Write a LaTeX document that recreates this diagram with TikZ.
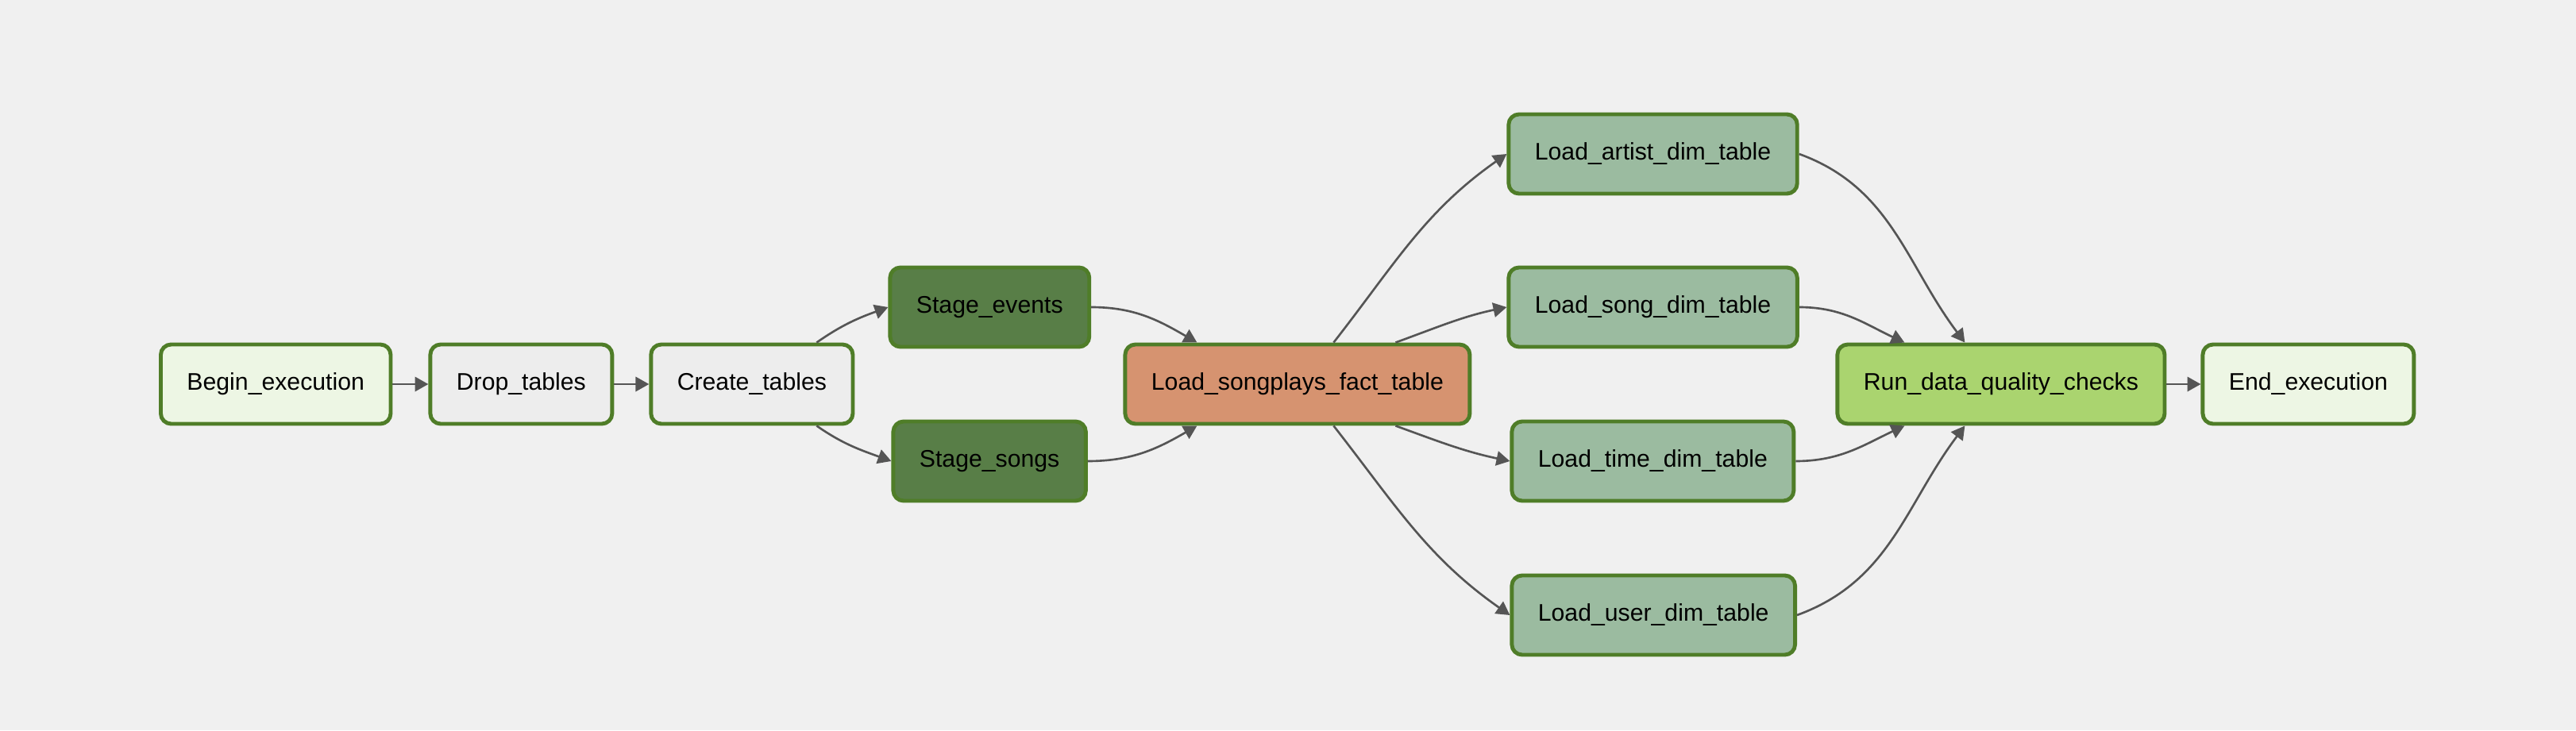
\documentclass[tikz,border=0pt]{standalone}
\usepackage{fontspec}
\setmainfont{Liberation Sans}
\usepackage{tikz}
\usetikzlibrary{positioning,arrows.meta}
\definecolor{canvas}{RGB}{240,240,240}
\definecolor{taskline}{RGB}{79,125,40}
\definecolor{edgegray}{RGB}{85,85,85}
\definecolor{dummyfill}{RGB}{237,246,228}
\definecolor{sqlfill}{RGB}{237,237,237}
\definecolor{stagefill}{RGB}{88,126,71}
\definecolor{factfill}{RGB}{214,147,112}
\definecolor{dimfill}{RGB}{155,187,160}
\definecolor{checkfill}{RGB}{170,212,111}
\tikzstyle{task}=[draw=taskline, line width=1.4pt, rounded corners=0.13cm,
        minimum height=1cm, inner xsep=0.33cm, font=\fontsize{8.6}{10}\selectfont]
\tikzstyle{edge}=[draw=edgegray, line width=0.75pt, -{Triangle[length=4.8pt,width=5.2pt]}]

\begin{document}
\begin{tikzpicture}

        \fill[canvas] (0,0) rectangle (32.44,9.2);
        \useasboundingbox (0,0) rectangle (32.44,9.2);

        \node[task, fill=dummyfill, anchor=west] (begin) at (2.0,4.36) {Begin\_execution};
        \node[task, fill=sqlfill, right=0.45cm of begin] (drop) {Drop\_tables};
        \node[task, fill=sqlfill, right=0.44cm of drop] (create) {Create\_tables};

        \node[task, fill=stagefill, right=0.42cm of create.east, yshift=0.97cm] (sevents)
            {Stage\_events};
        \node[task, fill=stagefill, right=0.46cm of create.east, yshift=-0.97cm] (ssongs)
            {Stage\_songs};

        \node[task, fill=factfill, right=3.38cm of create] (fact)
            {Load\_songplays\_fact\_table};

        \node[task, fill=dimfill, right=0.44cm of fact.east, yshift=2.9cm] (artist)
            {Load\_artist\_dim\_table};
        \node[task, fill=dimfill, right=0.44cm of fact.east, yshift=0.97cm] (song)
            {Load\_song\_dim\_table};
        \node[task, fill=dimfill, right=0.48cm of fact.east, yshift=-0.97cm] (time)
            {Load\_time\_dim\_table};
        \node[task, fill=dimfill, right=0.48cm of fact.east, yshift=-2.91cm] (user)
            {Load\_user\_dim\_table};

        \node[task, fill=checkfill, right=4.58cm of fact] (checks)
            {Run\_data\_quality\_checks};
        \node[task, fill=dummyfill, right=0.43cm of checks] (end) {End\_execution};

        \draw[edge] (begin) -- (drop);
        \draw[edge] (drop) -- (create);
        \draw[edge] ([xshift=-0.48cm]create.north east) to[out=35, in=200] (sevents.west);
        \draw[edge] ([xshift=-0.48cm]create.south east) to[out=-35, in=160] (ssongs.west);
        \draw[edge] (sevents.east) to[out=0, in=150] ([xshift=0.93cm]fact.north west);
        \draw[edge] (ssongs.east) to[out=0, in=210] ([xshift=0.93cm]fact.south west);

        \draw[edge] ([xshift=2.65cm]fact.north west) to[out=52, in=215] (artist.west);
        \draw[edge] ([xshift=3.43cm]fact.north west) to[out=20, in=192] (song.west);
        \draw[edge] ([xshift=3.43cm]fact.south west) to[out=-20, in=168] (time.west);
        \draw[edge] ([xshift=2.65cm]fact.south west) to[out=-52, in=145] (user.west);

        \draw[edge] (artist.east) to[out=-20, in=127] ([xshift=1.63cm]checks.north west);
        \draw[edge] (song.east) to[out=0, in=155] ([xshift=0.87cm]checks.north west);
        \draw[edge] (time.east) to[out=0, in=205] ([xshift=0.87cm]checks.south west);
        \draw[edge] (user.east) to[out=20, in=233] ([xshift=1.63cm]checks.south west);
        \draw[edge] (checks) -- (end);

    \end{tikzpicture}
\end{document}
